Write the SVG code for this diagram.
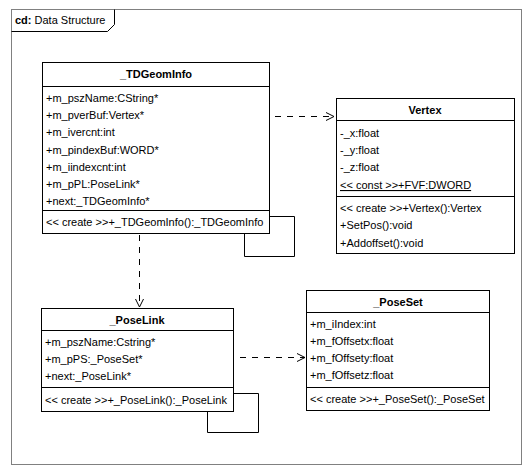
<svg xmlns="http://www.w3.org/2000/svg" width="531" height="474" viewBox="0 0 531 474">
<style>
text{font-family:"Liberation Sans",Arial,sans-serif;font-size:11px;fill:#000}
.t{font-weight:bold;text-anchor:middle}
.box{fill:#fff;stroke:#000;stroke-width:1}
.sep{stroke:#000;stroke-width:1}
.dash{fill:none;stroke:#000;stroke-width:1;stroke-dasharray:6 6}
.solid{fill:none;stroke:#000;stroke-width:1}
.arr{fill:none;stroke:#000;stroke-width:1}
</style>
<rect x="0" y="0" width="531" height="474" fill="#fff"/>
<g id="frame">
<rect x="11.5" y="9.5" width="510" height="455" fill="none" stroke="#808080"/>
<polyline points="11.5,31.5 107.5,31.5 114.5,24.5 114.5,9.5" fill="none" stroke="#000"/>
<text x="15" y="24"><tspan font-weight="bold">cd:</tspan> Data Structure</text>
</g>
<g id="connectors">
<line class="dash" x1="263" y1="116.5" x2="334" y2="116.5"/>
<polyline class="arr" points="326,112.5 334,116.5 326,120.5"/>
<line class="dash" x1="139.5" y1="235" x2="139.5" y2="307"/>
<polyline class="arr" points="135.5,299 139.5,307 143.5,299"/>
<line class="dash" x1="228" y1="357.5" x2="305" y2="357.5"/>
<polyline class="arr" points="297,353.5 305,357.5 297,361.5"/>
<polyline class="solid" points="269,216.5 294.5,216.5 294.5,256.5 244.5,256.5 244.5,234"/>
<polyline class="solid" points="234,393.5 258.5,393.5 258.5,432.5 207.5,432.5 207.5,412"/>
</g>
<g id="TDGeomInfo">
<rect class="box" x="42.5" y="62.5" width="227" height="171"/>
<line class="sep" x1="42.5" y1="86.5" x2="269.5" y2="86.5"/>
<line class="sep" x1="42.5" y1="210.5" x2="269.5" y2="210.5"/>
<text class="t" x="156" y="78">_TDGeomInfo</text>
<text x="46" y="102">+m_pszName:CString*</text>
<text x="46" y="119">+m_pverBuf:Vertex*</text>
<text x="46" y="136">+m_ivercnt:int</text>
<text x="46" y="154">+m_pindexBuf:WORD*</text>
<text x="46" y="171">+m_iindexcnt:int</text>
<text x="46" y="188">+m_pPL:PoseLink*</text>
<text x="46" y="205">+next:_TDGeomInfo*</text>
<text x="46" y="226">&lt;&lt; create &gt;&gt;+_TDGeomInfo():_TDGeomInfo</text>
</g>
<g id="Vertex">
<rect class="box" x="336.5" y="98.5" width="178" height="155"/>
<line class="sep" x1="336.5" y1="120.5" x2="514.5" y2="120.5"/>
<line class="sep" x1="336.5" y1="196.5" x2="514.5" y2="196.5"/>
<text class="t" x="425" y="114">Vertex</text>
<text x="340" y="137">-_x:float</text>
<text x="340" y="154">-_y:float</text>
<text x="340" y="171">-_z:float</text>
<text x="340" y="189" text-decoration="underline">&lt;&lt; const &gt;&gt;+FVF:DWORD</text>
<text x="340" y="212">&lt;&lt; create &gt;&gt;+Vertex():Vertex</text>
<text x="340" y="229">+SetPos():void</text>
<text x="340" y="247">+Addoffset():void</text>
</g>
<g id="PoseLink">
<rect class="box" x="41.5" y="308.5" width="192" height="103"/>
<line class="sep" x1="41.5" y1="330.5" x2="233.5" y2="330.5"/>
<line class="sep" x1="41.5" y1="387.5" x2="233.5" y2="387.5"/>
<text class="t" x="137" y="324">_PoseLink</text>
<text x="45" y="346">+m_pszName:Cstring*</text>
<text x="45" y="363">+m_pPS:_PoseSet*</text>
<text x="45" y="380">+next:_PoseLink*</text>
<text x="45" y="404">&lt;&lt; create &gt;&gt;+_PoseLink():_PoseLink</text>
</g>
<g id="PoseSet">
<rect class="box" x="306.5" y="290.5" width="183" height="120"/>
<line class="sep" x1="306.5" y1="312.5" x2="489.5" y2="312.5"/>
<line class="sep" x1="306.5" y1="387.5" x2="489.5" y2="387.5"/>
<text class="t" x="398" y="306">_PoseSet</text>
<text x="310" y="328">+m_iIndex:int</text>
<text x="310" y="345">+m_fOffsetx:float</text>
<text x="310" y="362">+m_fOffsety:float</text>
<text x="310" y="379">+m_fOffsetz:float</text>
<text x="310" y="403">&lt;&lt; create &gt;&gt;+_PoseSet():_PoseSet</text>
</g>
</svg>
